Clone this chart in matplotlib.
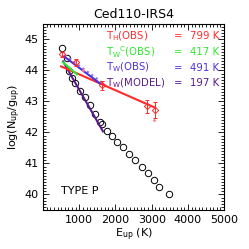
import matplotlib
matplotlib.use("Agg")
import matplotlib.pyplot as plt
import numpy as np
from matplotlib.ticker import MultipleLocator

# model points (black circles)
e_mod = [525, 662, 718, 800, 883, 1021, 1159, 1297, 1435, 1573, 1628, 1766, 1904,
         2042, 2208, 2374, 2539, 2732, 2898, 3064, 3202, 3478]
n_mod = [44.71, 44.39, 43.97, 43.77, 43.58, 43.35, 43.13, 42.87, 42.60, 42.35, 42.26,
         42.04, 41.88, 41.70, 41.54, 41.29, 41.10, 40.87, 40.68, 40.45, 40.24, 40.00]

# observed points (red diamonds)
e_obs = [525, 911, 1628, 2870, 3091]
n_obs = [44.52, 44.26, 43.52, 42.84, 42.72]
err_obs = [0.08, 0.12, 0.15, 0.2, 0.25]

# faint points
e_faint = [1100, 3064]
n_faint = [44.0, 42.4]

# fits: (E1, E2), (y1, y2)
fit_h = ([497, 3091], [44.13, 42.80])
fit_wc = ([552, 938], [44.26, 43.87])
fit_w = ([580, 1573], [44.45, 43.58])
fit_w_dots = ([600, 1700], [44.50, 43.55])
fit_mod = ([552, 1656], [44.29, 42.03])

labels = ["T$_\\mathregular{H}$(OBS)", "T$_\\mathregular{W}$$^\\mathregular{C}$(OBS)",
          "T$_\\mathregular{W}$(OBS)", "T$_\\mathregular{W}$(MODEL)"]
temps = ["799 K", "417 K", "491 K", "197 K"]
cols = ["#ff2a2a", "#2ee82e", "#4a32dc", "#5a1a8c"]

fig = plt.figure(figsize=(2.49, 2.49), dpi=100)
ax = fig.add_axes([0.173, 0.157, 0.727, 0.747])

ax.plot(e_mod, n_mod, "o", mfc="none", mec="black", ms=4.6, mew=0.7)
ax.plot(*fit_mod, color=cols[3], lw=1.5)
ax.plot(*fit_h, color=cols[0], lw=1.5)
ax.plot(*fit_wc, color=cols[1], lw=1.5)
ax.plot(*fit_w_dots, ls=":", color="mediumpurple", lw=1.5)
ax.plot(*fit_w, color=cols[2], lw=1.5)
ax.errorbar(e_obs, n_obs, yerr=err_obs, fmt="D", mfc="none", mec=cols[0], ecolor=cols[0],
            ms=3.2, mew=0.7, elinewidth=0.7, capsize=1.5)
ax.plot(e_faint, n_faint, ".", color="#ff8080", ms=2)

ax.set_xlim(0, 5000)
ax.set_ylim(39.5, 45.5)
ax.set_xticks([1000, 2000, 3000, 4000, 5000])
ax.set_yticks([40, 41, 42, 43, 44, 45])
ax.xaxis.set_minor_locator(MultipleLocator(100))
ax.yaxis.set_minor_locator(MultipleLocator(0.1))
ax.tick_params(which="both", direction="in", top=True, right=True, labelsize=8, width=0.6)
ax.tick_params(which="major", length=4)
ax.tick_params(which="minor", length=2)
for s in ax.spines.values():
    s.set_linewidth(0.8)

ax.set_xlabel("E$_\\mathregular{up}$ (K)", fontsize=8, labelpad=1)
ax.set_ylabel("log(N$_\\mathregular{up}$/g$_\\mathregular{up}$)", fontsize=8, labelpad=1)
ax.set_title("Ced110-IRS4", fontsize=9, pad=4)

rows = [0.935, 0.85, 0.765, 0.683]
for i in range(4):
    y = rows[i]
    ax.text(0.35, y, labels[i], color=cols[i], fontsize=7.3, transform=ax.transAxes, va="center")
    ax.text(0.745, y, "=", color=cols[i], fontsize=7.3, transform=ax.transAxes, va="center", ha="center")
    ax.text(0.975, y, temps[i], color=cols[i], fontsize=7.3, transform=ax.transAxes, va="center", ha="right")

ax.text(0.1, 0.1, "TYPE P", fontsize=8, transform=ax.transAxes, va="center")

fig.savefig("out.png", dpi=100)
